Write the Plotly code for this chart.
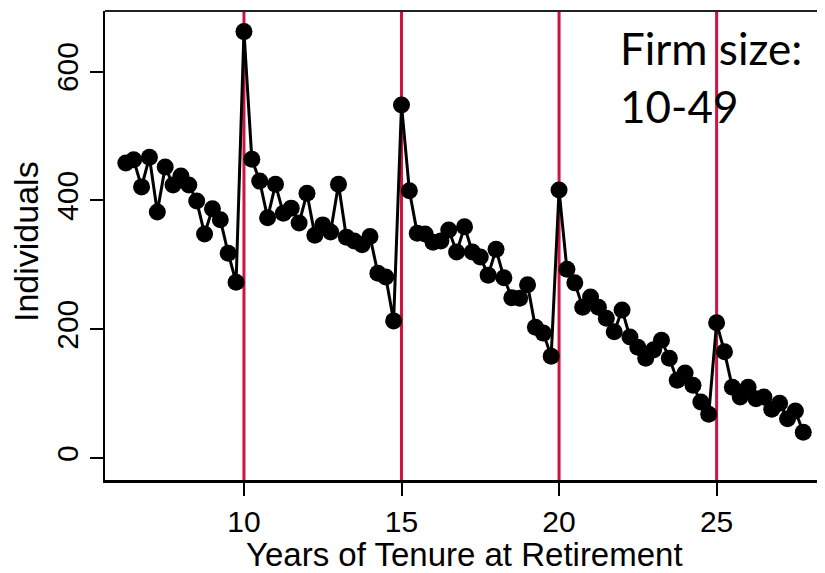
import plotly.graph_objects as go

# Tenure in years (quarterly steps)
tenure = [6.25 + 0.25 * i for i in range(87)]
individuals = [
    458, 463, 421, 467, 382, 452, 424, 438, 424, 399, 348, 387, 370, 318, 273,
    662,
    464, 430, 373, 425, 380, 388, 365, 411, 346, 362, 351, 425, 343, 337, 331, 344, 287, 281, 213,
    548,
    415, 349, 348, 335, 337, 354, 320, 359, 320, 312, 284, 324, 280, 249, 248, 269, 203, 194, 158,
    416,
    293, 272, 234, 250, 234, 217, 196, 230, 188, 172, 155, 168, 183, 155, 121, 132, 113, 87, 68,
    210,
    165, 110, 95, 110, 92, 95, 76, 85, 61, 73, 40,
]
vlines = [10, 15, 20, 25]
x_ticks = [10, 15, 20, 25]
y_ticks = [0, 200, 400, 600]
label_line1 = "Firm size:"
label_line2 = "10-49"

RED = "#CF1240"
FONT = "Liberation Sans, Arial, sans-serif"
TICKFONT = dict(family=FONT, size=30, color="black")

fig = go.Figure()
fig.add_trace(go.Scatter(
    x=tenure, y=individuals, mode="lines+markers",
    line=dict(color="black", width=3),
    marker=dict(color="black", size=17),
    showlegend=False, cliponaxis=False,
))

for v in vlines:
    fig.add_shape(type="line", xref="x", yref="paper", x0=v, x1=v, y0=0, y1=1,
                  line=dict(color=RED, width=3), layer="below")

# top frame line
fig.add_shape(type="line", xref="paper", yref="paper", x0=0, x1=1, y0=1, y1=1,
              line=dict(color="#222222", width=2))

# page has an 8px body margin; plot area target: x 105..825, y 11..480
fig.update_layout(
    width=817, height=565,
    margin=dict(l=97, r=0, t=3, b=93),
    paper_bgcolor="white", plot_bgcolor="white",
    xaxis=dict(range=[5.59, 28.44], tickvals=x_ticks, ticks="outside", ticklen=13,
               tickwidth=2, tickcolor="black", showline=True, linecolor="black",
               linewidth=3, showgrid=False, zeroline=False, tickfont=TICKFONT,
               ticklabelstandoff=0),
    yaxis=dict(range=[-34, 694], tickvals=y_ticks, ticks="outside", ticklen=13,
               tickwidth=2, tickcolor="black", showline=True, linecolor="black",
               linewidth=2, showgrid=False, zeroline=False, tickfont=TICKFONT,
               tickangle=-90, ticklabelstandoff=0),
    annotations=[
        dict(text="Years of Tenure at Retirement", xref="paper", yref="paper",
             x=(464.5 - 105) / 720, y=0, yshift=-74, xanchor="center", yanchor="middle",
             showarrow=False, font=dict(family=FONT, size=33, color="black")),
        dict(text="Individuals", xref="paper", yref="paper",
             x=0, xshift=-79, y=(480 - 242) / 469, yanchor="middle", xanchor="center",
             textangle=-90, showarrow=False,
             font=dict(family=FONT, size=34, color="black")),
        dict(text=label_line1, xref="paper", yref="paper", x=(618 - 105) / 720, y=1,
             yshift=-37, xanchor="left", yanchor="middle", showarrow=False,
             font=dict(family="Lato, sans-serif", size=44, color="black")),
        dict(text=label_line2, xref="paper", yref="paper", x=(618 - 105) / 720, y=1,
             yshift=-95, xanchor="left", yanchor="middle", showarrow=False,
             font=dict(family="Lato, sans-serif", size=44, color="black")),
    ],
)

fig.write_html("out.html")
